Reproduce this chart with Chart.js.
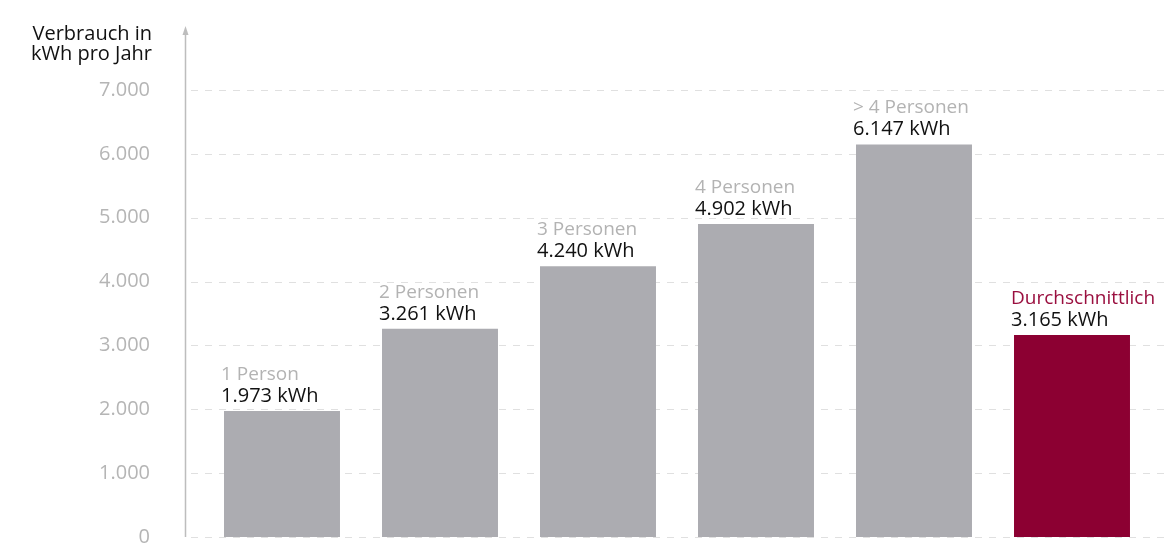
<!DOCTYPE html>
<html lang="de">
<head>
<meta charset="utf-8">
<title>Stromverbrauch nach Haushaltsgröße</title>
<script src="https://cdn.jsdelivr.net/npm/chart.js@4.4.1/dist/chart.umd.min.js"></script>
<style>
  html, body { margin: 0; padding: 0; background: #ffffff; overflow: hidden; }
  canvas { display: block; }
</style>
</head>
<body>
<canvas id="chart" width="1169" height="558"></canvas>
<script>
// Haushaltsgrößen und jährlicher Stromverbrauch (kWh)
const categories = ['1 Person', '2 Personen', '3 Personen', '4 Personen', '> 4 Personen', 'Durchschnittlich'];
const consumption = [1973, 3261, 4240, 4902, 6147, 3165];
const yTicks = [0, 1000, 2000, 3000, 4000, 5000, 6000, 7000];
const axisTitle = ['Verbrauch in', 'kWh pro Jahr'];

const GREY = '#acacb1';
const RED = '#8c0032';
const FONT = '"Open Sans", "DejaVu Sans", sans-serif';

const fmt = v => Math.round(v).toString().replace(/\B(?=(\d{3})+(?!\d))/g, '.');

const barColors = categories.map((c, i) => i === categories.length - 1 ? RED : GREY);
const nameColors = categories.map((c, i) => i === categories.length - 1 ? '#9a0f3f' : '#b3b3b3');

// dashed grid, y axis with arrow, axis title
const backdrop = {
  id: 'backdrop',
  beforeDatasetsDraw(chart) {
    const { ctx, chartArea, scales } = chart;
    const y = scales.y;
    const axisX = chartArea.left - 18;
    ctx.save();
    ctx.strokeStyle = 'rgba(0,0,0,0.12)';
    ctx.lineWidth = 1;
    ctx.setLineDash([7, 7]);
    yTicks.forEach(t => {
      const py = Math.round(y.getPixelForValue(t)) + 0.5;
      ctx.beginPath();
      ctx.moveTo(axisX + 6, py);
      ctx.lineTo(chart.width, py);
      ctx.stroke();
    });
    ctx.setLineDash([]);
    // vertical axis with arrowhead
    const x0 = axisX + 0.5;
    const bottom = y.getPixelForValue(0);
    const top = 30;
    ctx.strokeStyle = '#bdbdbd';
    ctx.lineWidth = 1.5;
    ctx.beginPath();
    ctx.moveTo(x0, bottom);
    ctx.lineTo(x0, top);
    ctx.stroke();
    ctx.fillStyle = '#bdbdbd';
    ctx.beginPath();
    ctx.moveTo(x0, top - 4);
    ctx.lineTo(x0 - 3, top + 5);
    ctx.lineTo(x0 + 3, top + 5);
    ctx.closePath();
    ctx.fill();
    // axis title
    ctx.fillStyle = '#111111';
    ctx.font = '20px ' + FONT;
    ctx.textAlign = 'right';
    ctx.textBaseline = 'alphabetic';
    ctx.fillText(axisTitle[0], 152, 40);
    ctx.fillText(axisTitle[1], 152, 60);
    ctx.restore();
  }
};

// category name and value above each bar
const barLabels = {
  id: 'barLabels',
  afterDatasetsDraw(chart) {
    const { ctx } = chart;
    const meta = chart.getDatasetMeta(0);
    ctx.save();
    ctx.textAlign = 'left';
    ctx.textBaseline = 'alphabetic';
    meta.data.forEach((bar, i) => {
      const left = bar.x - bar.width / 2 - 3;
      ctx.font = '19px ' + FONT;
      ctx.fillStyle = nameColors[i];
      ctx.fillText(categories[i], left, bar.y - 31);
      ctx.font = '20px ' + FONT;
      ctx.fillStyle = '#111111';
      ctx.fillText(fmt(consumption[i]) + ' kWh', left, bar.y - 9);
    });
    ctx.restore();
  }
};

new Chart(document.getElementById('chart'), {
  type: 'bar',
  data: {
    labels: categories,
    datasets: [{
      data: consumption,
      backgroundColor: barColors,
      borderWidth: 0,
      categoryPercentage: 1,
      barPercentage: 0.734
    }]
  },
  options: {
    responsive: false,
    animation: false,
    layout: { padding: { top: 90, right: 18, bottom: 21, left: 0 } },
    plugins: {
      legend: { display: false },
      tooltip: { enabled: false }
    },
    scales: {
      x: {
        display: false,
        offset: true
      },
      y: {
        min: 0,
        max: 7000,
        afterFit(scale) {
          scale.width = 203;
          scale.paddingTop = 0;
          scale.paddingBottom = 0;
        },
        afterBuildTicks(scale) { scale.ticks = yTicks.map(v => ({ value: v })); },
        border: { display: false },
        grid: { display: false, drawTicks: false },
        ticks: {
          padding: 53,
          color: '#b5b5b5',
          font: { family: FONT, size: 20 },
          callback: v => fmt(v)
        }
      }
    }
  },
  plugins: [backdrop, barLabels]
});
</script>
</body>
</html>
